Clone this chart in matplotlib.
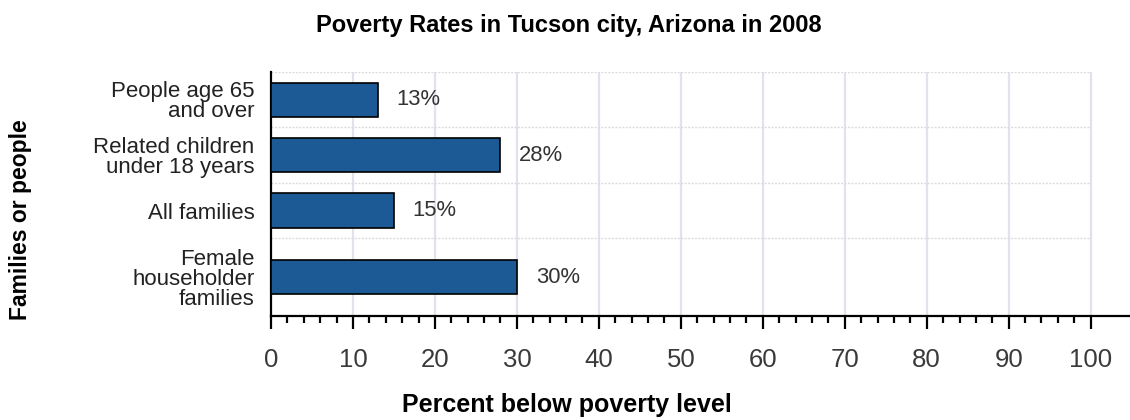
import matplotlib.pyplot as plt
import numpy as np

categories = ["People age 65\nand over", "Related children\nunder 18 years", "All families",
              "Female\nhouseholder\nfamilies"]
rates = [13, 28, 15, 30]
value_labels = ["13%", "28%", "15%", "30%"]
x_ticks = [0, 10, 20, 30, 40, 50, 60, 70, 80, 90, 100]

plt.rcParams["font.family"] = ["Liberation Sans", "DejaVu Sans"]

# band height grows with the number of label lines, as in the original layout
lines = [c.count("\n") + 1 for c in categories]
bands = np.array([1 + 0.4 * (max(n, 2) - 2) for n in lines])
edges = np.concatenate([[0], np.cumsum(bands)])
centers = (edges[:-1] + edges[1:]) / 2

fig = plt.figure(figsize=(11.3, 4.2), dpi=100)
ax = fig.add_axes([0.2398, 0.2476, 0.7602, 0.581])

ax.barh(centers, rates, height=0.62, color="#1b5a94", edgecolor="black", linewidth=1.2, zorder=3)
for c, r, lab in zip(centers, rates, value_labels):
    ax.text(r + 2.3, c, lab, va="center", ha="left", fontsize=15.8, color="#333333", zorder=4)

ax.set_xlim(0, 104.8)
ax.set_ylim(edges[-1], 0)
ax.vlines(x_ticks[1:], 0, edges[-1], color="#e2e2ee", linewidth=1.6, zorder=1)
ax.hlines(edges[:-1], 0, 100, color="#dcdcdc", linewidth=1, linestyles=(0, (1.5, 1)), zorder=1)

ax.set_yticks(centers)
ax.set_yticklabels(categories, fontsize=16, color="#222222", linespacing=0.95)
ax.tick_params(axis="y", length=0, pad=12)

ax.set_xticks(x_ticks)
ax.set_xticks(np.arange(0, 101, 2), minor=True)
ax.set_xticklabels([str(t) for t in x_ticks], fontsize=18.5, color="#3a3a3a")
ax.tick_params(axis="x", which="major", direction="out", length=9, width=1.6, pad=14)
ax.tick_params(axis="x", which="minor", direction="out", length=5, width=1.6)

for side in ["top", "right"]:
    ax.spines[side].set_visible(False)
ax.spines["left"].set_linewidth(1.6)
ax.spines["bottom"].set_linewidth(1.6)

fig.text(0.503, 0.94, "Poverty Rates in Tucson city, Arizona in 2008", ha="center", va="center",
         fontsize=17, fontweight="bold")
fig.text(0.502, 0.036, "Percent below poverty level", ha="center", va="center",
         fontsize=18, fontweight="bold")
fig.text(0.018, 0.476, "Families or people", ha="center", va="center", rotation=90,
         fontsize=16.5, fontweight="bold")

fig.savefig("out.png", dpi=100)
